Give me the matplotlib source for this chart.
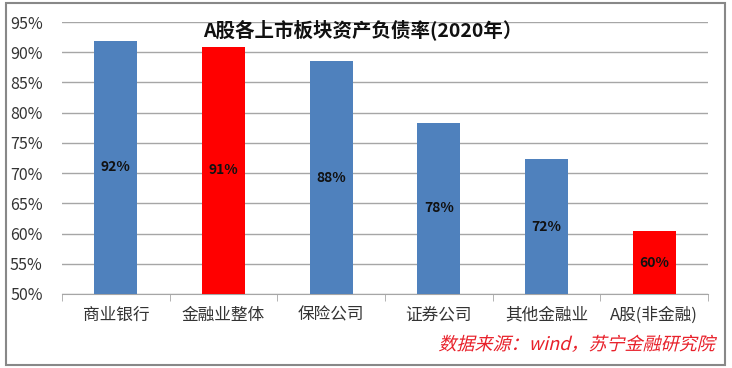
import matplotlib
matplotlib.use("Agg")
import matplotlib.pyplot as plt
from matplotlib.patches import Rectangle
from matplotlib.patheffects import AbstractPathEffect
from matplotlib.transforms import Affine2D
import numpy as np

plt.rcParams['font.family'] = ['Noto Sans CJK SC', 'DejaVu Sans']

categories = ["商业银行", "金融业整体", "保险公司", "证券公司", "其他金融业", "A股(非金融)"]
values = [91.9, 90.9, 88.5, 78.3, 72.3, 60.4]
labels = ["92%", "91%", "88%", "78%", "72%", "60%"]
highlight = [False, True, False, False, False, True]
yticks = [50, 55, 60, 65, 70, 75, 80, 85, 90, 95]

blue = "#4F81BD"
red = "#FF0000"
colors = [red if h else blue for h in highlight]


class Slant(AbstractPathEffect):
    # fake italic for CJK fonts that have no italic face
    def __init__(self, deg=14):
        super().__init__()
        self.deg = deg

    def draw_path(self, renderer, gc, tpath, affine, rgbFace=None):
        renderer.draw_path(gc, tpath, Affine2D().skew_deg(self.deg, 0) + affine, rgbFace)


fig = plt.figure(figsize=(7.32, 3.68), dpi=100)
ax = fig.add_axes([62/732, 1 - 294/368, (708-62)/732, (294-22)/368])

x = np.arange(len(categories))
base = 50
ax.bar(x, [v - base for v in values], bottom=base, width=0.4, color=colors, zorder=3)

for xi, v, lab in zip(x, values, labels):
    ax.text(xi, (base + v) / 2, lab, ha="center", va="center",
            fontsize=10, fontweight="bold", color="#111111", zorder=4)

ax.set_xlim(-0.5, len(categories) - 0.5)
ax.set_ylim(50, 95)
ax.set_yticks(yticks)
ax.set_yticklabels([f"{t}%" for t in yticks], fontsize=11.5, color="#333333")
ax.yaxis.grid(True, color="#A6A6A6", linewidth=1, zorder=0)
ax.tick_params(axis="y", length=0, pad=14)

ax.set_xticks(x)
ax.set_xticklabels(categories, fontsize=12, color="#333333")
ax.set_xticks(np.arange(-0.5, len(categories)), minor=True)
ax.tick_params(axis="x", which="major", length=0, pad=9)
ax.tick_params(axis="x", which="minor", length=5, color="#A6A6A6", direction="out")

for s in ["top", "right", "left"]:
    ax.spines[s].set_visible(False)
ax.spines["bottom"].set_color("#A6A6A6")

fig.text(363/732, 1 - 30/368, "A股各上市板块资产负债率(2020年）", ha="center", va="center",
         fontsize=14, fontweight="bold", color="#111111")

fig.text(714/732, 1 - 345/368, "数据来源：wind，苏宁金融研究院", ha="right", va="center",
         fontsize=13, color="#E8202A", path_effects=[Slant(14)])

fig.patches.append(Rectangle((6/732, 3/368), 719/732, 362/368, transform=fig.transFigure,
                             fill=False, edgecolor="#888888", linewidth=1.5))

fig.savefig("out.png", dpi=100)
